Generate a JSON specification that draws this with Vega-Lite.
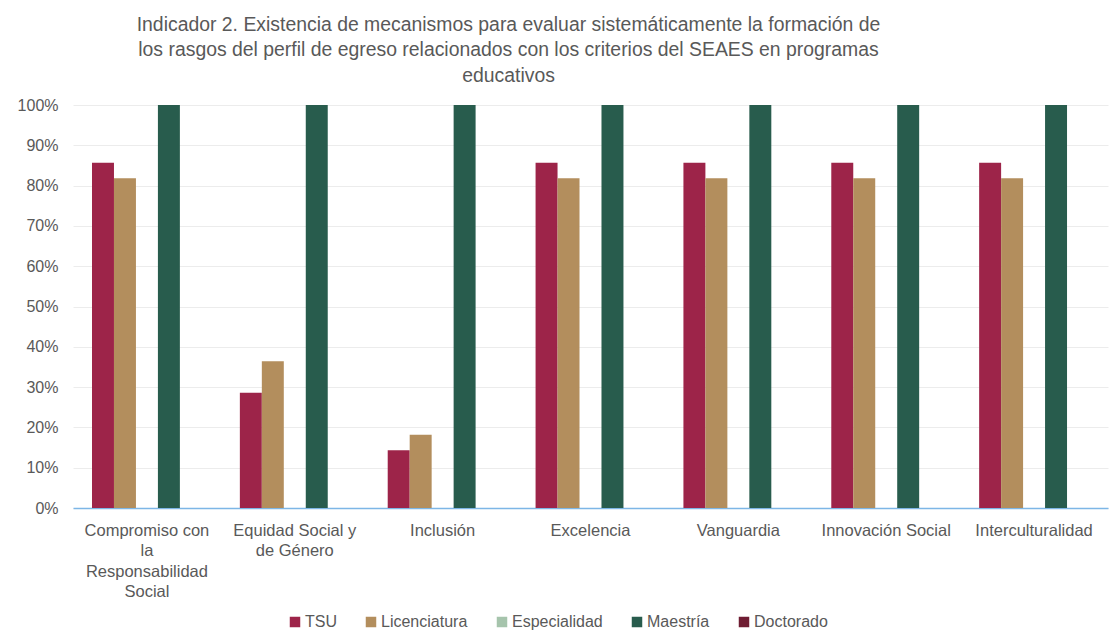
{
  "$schema": "https://vega.github.io/schema/vega-lite/v6.json",
  "width": 1035,
  "height": 403,
  "autosize": {"type": "none"},
  "padding": {"left": 73, "top": 105, "right": 4, "bottom": 131},
  "background": "white",
  "title": {
    "text": ["Indicador 2. Existencia de mecanismos para evaluar sistemáticamente la formación de", "los rasgos del perfil de egreso relacionados con los criterios del SEAES en programas", "educativos"],
    "anchor": "middle",
    "frame": "group",
    "dx": -82,
    "offset": 11,
    "font": "Liberation Sans",
    "fontSize": 19.4,
    "fontWeight": "normal",
    "color": "#595959",
    "lineHeight": 25.5
  },
  "config": {
    "view": {"stroke": null},
    "font": "Liberation Sans"
  },
  "data": {
    "values": [
      {"criterio": "Compromiso con la Responsabilidad Social", "nivel": "TSU", "valor": 0.857},
      {"criterio": "Compromiso con la Responsabilidad Social", "nivel": "Licenciatura", "valor": 0.818},
      {"criterio": "Compromiso con la Responsabilidad Social", "nivel": "Especialidad", "valor": 0},
      {"criterio": "Compromiso con la Responsabilidad Social", "nivel": "Maestría", "valor": 1},
      {"criterio": "Compromiso con la Responsabilidad Social", "nivel": "Doctorado", "valor": 0},
      {"criterio": "Equidad Social y de Género", "nivel": "TSU", "valor": 0.286},
      {"criterio": "Equidad Social y de Género", "nivel": "Licenciatura", "valor": 0.364},
      {"criterio": "Equidad Social y de Género", "nivel": "Especialidad", "valor": 0},
      {"criterio": "Equidad Social y de Género", "nivel": "Maestría", "valor": 1},
      {"criterio": "Equidad Social y de Género", "nivel": "Doctorado", "valor": 0},
      {"criterio": "Inclusión", "nivel": "TSU", "valor": 0.143},
      {"criterio": "Inclusión", "nivel": "Licenciatura", "valor": 0.182},
      {"criterio": "Inclusión", "nivel": "Especialidad", "valor": 0},
      {"criterio": "Inclusión", "nivel": "Maestría", "valor": 1},
      {"criterio": "Inclusión", "nivel": "Doctorado", "valor": 0},
      {"criterio": "Excelencia", "nivel": "TSU", "valor": 0.857},
      {"criterio": "Excelencia", "nivel": "Licenciatura", "valor": 0.818},
      {"criterio": "Excelencia", "nivel": "Especialidad", "valor": 0},
      {"criterio": "Excelencia", "nivel": "Maestría", "valor": 1},
      {"criterio": "Excelencia", "nivel": "Doctorado", "valor": 0},
      {"criterio": "Vanguardia", "nivel": "TSU", "valor": 0.857},
      {"criterio": "Vanguardia", "nivel": "Licenciatura", "valor": 0.818},
      {"criterio": "Vanguardia", "nivel": "Especialidad", "valor": 0},
      {"criterio": "Vanguardia", "nivel": "Maestría", "valor": 1},
      {"criterio": "Vanguardia", "nivel": "Doctorado", "valor": 0},
      {"criterio": "Innovación Social", "nivel": "TSU", "valor": 0.857},
      {"criterio": "Innovación Social", "nivel": "Licenciatura", "valor": 0.818},
      {"criterio": "Innovación Social", "nivel": "Especialidad", "valor": 0},
      {"criterio": "Innovación Social", "nivel": "Maestría", "valor": 1},
      {"criterio": "Innovación Social", "nivel": "Doctorado", "valor": 0},
      {"criterio": "Interculturalidad", "nivel": "TSU", "valor": 0.857},
      {"criterio": "Interculturalidad", "nivel": "Licenciatura", "valor": 0.818},
      {"criterio": "Interculturalidad", "nivel": "Especialidad", "valor": 0},
      {"criterio": "Interculturalidad", "nivel": "Maestría", "valor": 1},
      {"criterio": "Interculturalidad", "nivel": "Doctorado", "valor": 0}
    ]
  },
  "mark": {"type": "bar"},
  "encoding": {
    "x": {
      "field": "criterio",
      "type": "nominal",
      "sort": null,
      "scale": {"paddingInner": 0.257, "paddingOuter": 0.1285},
      "axis": {
        "title": null,
        "labelAngle": 0,
        "labelFont": "Liberation Sans",
        "labelFontSize": 16.5,
        "labelColor": "#595959",
        "labelLineHeight": 20.5,
        "labelPadding": 14,
        "labelBaseline": "top",
        "labelLimit": 0,
        "ticks": false,
        "domainColor": "#7db6e6",
        "domainWidth": 1.5,
        "labelExpr": "datum.value == 'Compromiso con la Responsabilidad Social' ? ['Compromiso con', 'la', 'Responsabilidad', 'Social'] : datum.value == 'Equidad Social y de Género' ? ['Equidad Social y', 'de Género'] : datum.value"
      }
    },
    "xOffset": {
      "field": "nivel",
      "type": "nominal",
      "sort": ["TSU", "Licenciatura", "Especialidad", "Maestría", "Doctorado"],
      "scale": {"paddingInner": 0, "paddingOuter": 0}
    },
    "y": {
      "field": "valor",
      "type": "quantitative",
      "scale": {"domain": [0, 1]},
      "axis": {
        "title": null,
        "format": ".0%",
        "values": [0, 0.1, 0.2, 0.3, 0.4, 0.5, 0.6, 0.7, 0.8, 0.9, 1],
        "labelFont": "Liberation Sans",
        "labelFontSize": 16,
        "labelColor": "#595959",
        "labelPadding": 15,
        "domain": false,
        "ticks": false,
        "gridColor": "#ececec",
        "gridWidth": 1
      }
    },
    "color": {
      "field": "nivel",
      "type": "nominal",
      "sort": ["TSU", "Licenciatura", "Especialidad", "Maestría", "Doctorado"],
      "scale": {
        "domain": ["TSU", "Licenciatura", "Especialidad", "Maestría", "Doctorado"],
        "range": ["#9d2449", "#b38e5d", "#a6c4ac", "#285c4d", "#6f1d33"]
      },
      "legend": {
        "title": null,
        "orient": "none",
        "legendX": 214,
        "legendY": 509,
        "direction": "horizontal",
        "symbolType": "square",
        "symbolSize": 110,
        "symbolStrokeWidth": 0,
        "labelFont": "Liberation Sans",
        "labelFontSize": 16,
        "labelColor": "#595959",
        "labelOffset": 2,
        "columnPadding": 26
      }
    }
  }
}
